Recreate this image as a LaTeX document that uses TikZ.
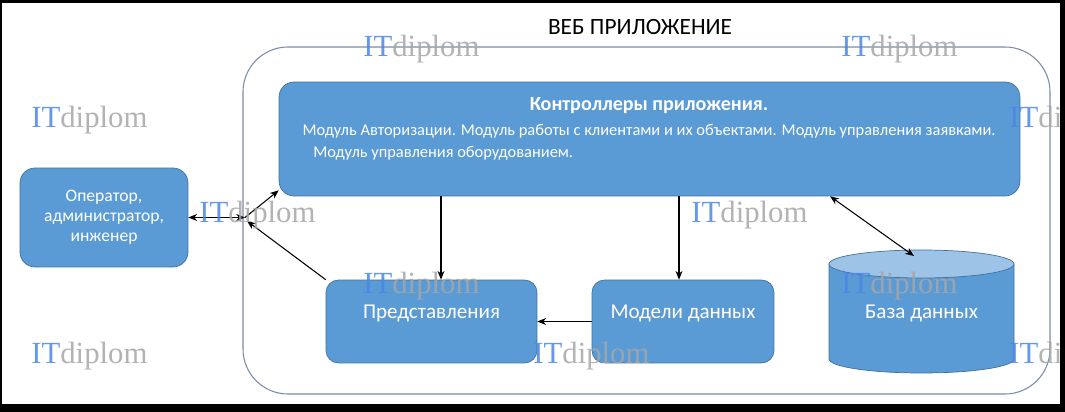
\documentclass[tikz,border=0pt]{standalone}
\usepackage{fontspec}
\setmainfont{Carlito}
\newfontfamily\wmfont{Liberation Serif}
\usepackage{tikz}
\usetikzlibrary{arrows.meta}
\usetikzlibrary{calc}

\definecolor{boxblue}{HTML}{5B9BD5}
\definecolor{boxedge}{HTML}{41719C}
\definecolor{dbtopblue}{HTML}{9DC3E6}
\definecolor{appframe}{HTML}{7A8CA6}
\definecolor{wmblue}{HTML}{4A86E8}
\definecolor{wmgray}{HTML}{A6A6A6}

\newcommand{\wmtext}{\textcolor{wmblue}{IT}\textcolor{wmgray}{diplom}}

\tikzset{
    block/.style={draw=boxedge, fill=boxblue, rounded corners=0.3cm, inner sep=0pt},
    blocktext/.style={text=white, align=center, inner sep=0pt},
    link/.style={line width=0.6pt, -{Stealth[length=5pt, width=4pt]}},
    wm/.style={anchor=base west, inner sep=0pt, font=\wmfont\fontsize{17.5}{20}\selectfont, opacity=0.85},
}

\begin{document}
\begin{tikzpicture}[x=0.02cm, y=-0.02cm]
    \useasboundingbox (0,0) rectangle (1065,412);
    \fill[black] (0,0) rectangle (1065,412);
    \fill[white] (2,3) rectangle (1060,404);

    % web application frame
    \draw[appframe, line width=0.6pt, rounded corners=0.9cm] (243,47) rectangle (1050,394);
    \node[inner sep=0pt, font=\fontsize{13.3}{15}\selectfont] (apptitle) at (640,27) {ВЕБ ПРИЛОЖЕНИЕ};

    % controllers
    \node[block, minimum width=14.82cm, minimum height=2.28cm] (ctrl) at (649.5,139) {};
    \node[blocktext, font=\bfseries\fontsize{11.4}{13}\selectfont] (ctrltitle) at (649,106) {Контроллеры приложения.};
    \node[blocktext, font=\fontsize{9.35}{11}\selectfont] (ctrlline1) at (649,131)
        {Модуль Авторизации. Модуль работы с клиентами и их объектами. Модуль управления заявками.};
    \node[blocktext, anchor=west, font=\fontsize{9.35}{11}\selectfont] (ctrlline2) at (313,153)
        {Модуль управления оборудованием.};

    % user
    \node[block, minimum width=3.36cm, minimum height=1.98cm] (op) at (104,217.5) {};
    \node[blocktext, font=\fontsize{10}{11.3}\selectfont] (optext) at (op.center)
        {Оператор,\\администратор,\\инженер};

    % views and models
    \node[block, minimum width=4.22cm, minimum height=1.66cm, rounded corners=0.25cm] (views) at (431.5,321.5) {};
    \node[blocktext, font=\fontsize{12}{14}\selectfont] (viewstext) at ([yshift=0.17cm]views.center) {Представления};
    \node[block, minimum width=3.64cm, minimum height=1.66cm, rounded corners=0.25cm] (models) at (683,321.5) {};
    \node[blocktext, font=\fontsize{12}{14}\selectfont] (modelstext) at ([yshift=0.17cm]models.center) {Модели данных};

    % database
    \fill[boxblue, draw=boxedge, line width=0.4pt] (829,264) -- (829,359) arc[start angle=180, end angle=0, x radius=92.5, y radius=14] -- (1014,264) -- cycle;
    \fill[dbtopblue, draw=boxedge, line width=0.4pt] (921.5,264) ellipse[x radius=92.5, y radius=14];
    \node[blocktext, font=\fontsize{12}{14}\selectfont] (db) at (921.5,313) {База данных};
    \coordinate (dbtop) at (914,256);

    % connectors
    \coordinate (junc) at (245,217.5);
    \coordinate (juncin) at (247,221);
    \draw[link, {Stealth[length=5pt, width=4pt]}-{Stealth[length=5pt, width=4pt]}] (op.east) -- (junc);
    \draw[link] (junc) -- ([yshift=0.12cm]ctrl.south west);
    \draw[link] (views.north west) -- (juncin);
    \draw[link] ([xshift=0.19cm]views.north |- ctrl.south) -- ([xshift=0.19cm]views.north);
    \draw[link] ([xshift=-0.08cm]models.north |- ctrl.south) -- ([xshift=-0.08cm]models.north);
    \draw[link] (models.west) -- (views.east);
    \draw[link, {Stealth[length=5pt, width=4pt]}-{Stealth[length=5pt, width=4pt]}] ($(ctrl.south west)!0.7436!(ctrl.south east)$) -- (dbtop);

    % watermarks
    \foreach \wx/\wy [count=\i] in {363/57, 841/57, 31/128, 1009/128, 199/222, 691/222, 363/293, 841/293, 31/363, 533/363, 1009/363}
        \node[wm] (wm\i) at (\wx,\wy) {\wmtext};

    % right frame edge over the cut watermarks
    \fill[black] (1060,0) rectangle (1065,412);
\end{tikzpicture}
\end{document}
